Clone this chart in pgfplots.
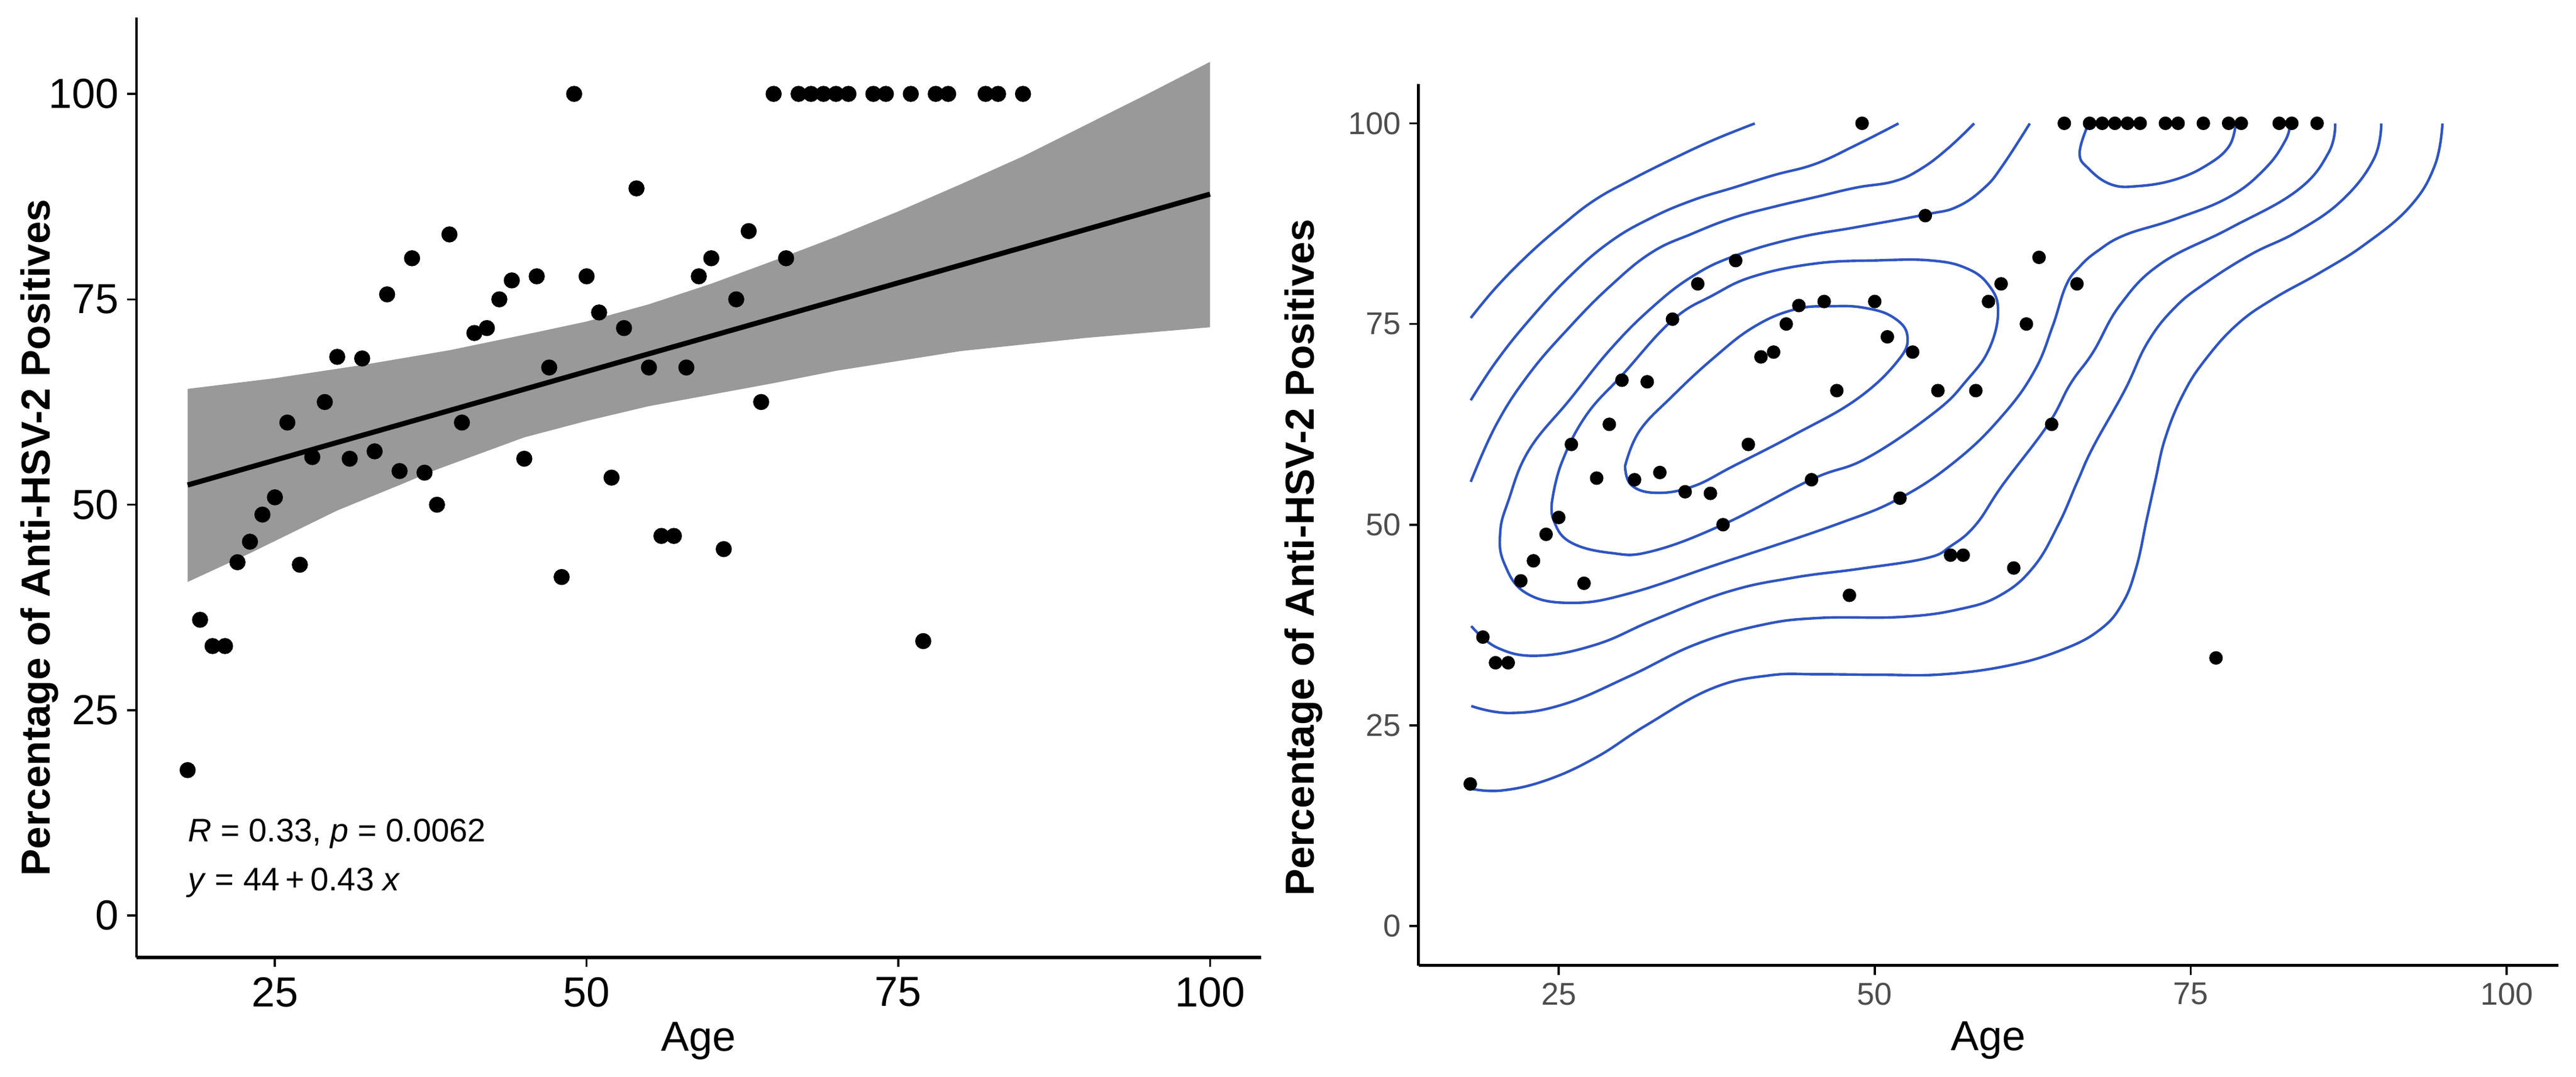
\documentclass[border=0pt]{standalone}
\usepackage{fontspec}
\setmainfont{Liberation Sans}
\usepackage{pgfplots}
\usepackage{pgfplotstable}
\pgfplotsset{compat=1.18}

\definecolor{bandgrey}{HTML}{999999}
\definecolor{contour}{HTML}{2F55C0}
\definecolor{tickgrey}{HTML}{4D4D4D}

% age vs percentage, same points in both panels
\pgfplotstableread{
age pct
18 17.7
19 36
20 32.8
21 32.8
22 43
23 45.5
24 48.8
25 50.9
26 60
27 42.7
28 55.8
29 62.5
30 68
31 55.6
32 67.8
33 56.5
34 75.6
35 54.1
36 80
37 53.9
38 50
39 82.9
40 60
41 70.9
42 71.5
43 75
44 77.3
45 55.6
46 77.8
47 66.7
48 41.2
49 100
50 77.8
51 73.4
52 53.3
53 71.5
54 88.5
55 66.7
56 46.2
57 46.2
58 66.7
59 77.8
60 80
61 44.6
62 75
63 83.3
64 62.5
65 100
66 80
67 100
68 100
69 100
70 100
71 100
73 100
74 100
76 100
77 33.4
78 100
79 100
82 100
83 100
85 100
}\pts

\pgfplotsset{
  panel/.style={
    scale only axis,
    axis x line=bottom, axis y line=left,
    axis line style={-},
    xmin=13.9, xmax=104.1,
    xtick={25,50,75,100}, ytick={0,25,50,75,100},
    tick align=outside,
    major tick length=4pt,
    tick style={black,line width=0.9pt},
    /pgf/number format/assume math mode=true,
    clip=false,
  },
}

\begin{document}
\begin{tikzpicture}
\path[use as bounding box] (0,0) rectangle (1104pt,461.5pt);

% left panel: regression
\begin{axis}[panel,
  at={(58.5pt,51pt)}, anchor=south west,
  width=482pt, height=403pt,
  ymin=-5.1, ymax=109.3,
  x axis line style={line width=1.3pt},
  y axis line style={line width=0.8pt},
  tick label style={font=\fontsize{18}{20}\selectfont,black},
  xticklabel style={yshift=-1pt},
  xlabel={Age},
  ylabel={Percentage of Anti-HSV-2 Positives},
  every axis x label/.style={at={(axis description cs:0.5,-0.0993)},anchor=base,font=\fontsize{18}{20}\selectfont},
  every axis y label/.style={at={(axis description cs:-0.0768,0.4467)},anchor=base,rotate=90,font=\fontsize{17.35}{20}\selectfont\bfseries},
]
\addplot[fill=bandgrey,draw=none] coordinates {
  (18,64.1)(25,65.4)(32,67)(39,68.8)(46,71)(50,72.3)(55,74.4)(60,76.9)(65,79.7)(70,82.6)(75,85.7)(80,89)(85,92.4)(90,96.2)(95,100)(100,103.9)
  (100,71.6)(90,70.3)(80,68.7)(70,66.3)(65,64.8)(60,63.4)(55,62)(50,60.2)(45,58.2)(38,54.3)(35,52.4)(30,49.3)(23,44.1)(18,40.6)
} --cycle;
\addplot[only marks,mark=*,mark size=3.25pt,mark options={draw=none,fill=black}] table[x=age,y=pct] {\pts};
\addplot[black,line width=2.2pt] coordinates {(18,52.4)(100,87.8)};
\node[anchor=base west,inner sep=0pt,font=\fontsize{14}{16}\selectfont] at (axis cs:18,9) {\textit{R} = 0.33, \textit{p} = 0.0062};
\node[anchor=base west,inner sep=0pt,font=\fontsize{14}{16}\selectfont] at (axis cs:18,3) {\textit{y} = 44\hspace{0.18em}+\hspace{0.18em}0.43 \textit{x}};
\end{axis}

% right panel: density contours
\begin{axis}[panel,
  at={(607.9pt,47.6pt)}, anchor=south west,
  width=488.6pt, height=377.9pt,
  ymin=-4.9, ymax=104.9,
  x axis line style={line width=1.3pt},
  y axis line style={line width=1.4pt},
  tick label style={font=\fontsize{13.5}{16}\selectfont,text=tickgrey},
  xlabel={Age},
  ylabel={Percentage of Anti-HSV-2 Positives},
  every axis x label/.style={at={(axis description cs:0.5,-0.0968)},anchor=base,font=\fontsize{18}{20}\selectfont},
  every axis y label/.style={at={(axis description cs:-0.0915,0.4625)},anchor=base,rotate=90,font=\fontsize{17.35}{20}\selectfont\bfseries},
  contourline/.style={contour,line width=1.1pt,smooth,tension=0.7},
]
\addplot[only marks,mark=*,mark size=2.7pt,mark options={draw=none,fill=black}] table[x=age,y=pct] {\pts};

\addplot[contourline] coordinates {
  (18.04,75.75)(20.05,79.57)(22.64,83.71)(25.23,87.26)(27.82,90.41)(30.73,92.97)(33.97,95.53)(37.21,97.9)(40.51,99.98)
};
\addplot[contourline] coordinates {
  (18.04,65.5)(20.05,70.32)(22.64,75.44)(25.88,80.95)(29.11,85.29)(32.35,88.24)(35.59,90.41)(38.83,91.99)(42.07,93.56)(45.3,94.94)(48.54,97.3)(51.88,99.98)
};
\addplot[contourline] coordinates {
  (18.04,55.34)(20.05,62.44)(22.64,68.74)(25.88,74.65)(29.11,79.77)(32.35,83.91)(35.59,86.27)(38.83,88.24)(42.07,89.62)(45.3,90.8)(48.54,91.99)(51.53,92.77)(53.68,94.35)(55.82,96.91)(57.87,99.98)
};
\addplot[contourline] coordinates {
  (62.27,99.98)(60.12,94.74)(58.69,91.99)(56.54,89.62)(54.03,88.64)(48.54,87.06)(43.69,85.68)(38.99,83.52)(35.59,80.95)(32.35,77.01)(29.11,71.89)(25.88,65.59)(22.64,59.28)(21.02,53)(20.37,49.04)(20.69,45.18)(22.45,41.45)(26.04,40.26)(30.61,41.45)(37.78,45.18)(46.91,50)(52.07,53.37)(56.54,58.1)(60.12,63.62)(62.63,69.13)(64.06,74.65)(65.13,79.77)(66.21,82.14)(67.64,84.1)(69.79,86.08)(73.72,88.05)(78.02,90.8)(80.88,94.35)(82.5,97.9)(82.85,99.98)
};
\addplot[contourline] coordinates {
  (24.48,52.98)(25.23,57.71)(27.17,63.62)(30.08,68.74)(33.97,75.44)(37.21,78.59)(40.45,80.95)(45.3,82.53)(50.16,82.92)(54.39,82.92)(57.26,81.94)(59.05,79.77)(59.76,76.62)(59.05,71.89)(57.26,67.95)(54.75,64.01)(49.38,58.3)(44.98,55.62)(38.02,50.03)(32.35,46.68)(29.11,46.48)(25.88,47.86)(24.58,50.62)(24.48,52.98)
};
\addplot[contourline] coordinates {
  (30.25,57.31)(30.73,54.95)(32.68,53.97)(35.59,54.75)(38.83,57.31)(43.69,61.25)(48.54,65.59)(51.78,70.32)(52.59,73.47)(51.46,75.83)(49.19,77.01)(46.6,77.21)(43.69,76.82)(40.45,74.65)(37.21,70.71)(33.97,65.98)(31.38,61.65)(30.25,57.31)
};
\addplot[contourline] coordinates {
  (66.92,99.98)(66.21,96.32)(66.92,94.35)(68.71,92.38)(70.86,92.18)(73.72,92.97)(76.23,94.74)(78.02,97.11)(78.56,99.98)
};
\addplot[contourline] coordinates {
  (18.08,37.37)(20.17,34.65)(23.43,33.68)(28,35.09)(32.56,38.16)(38.43,41.67)(43.65,43.42)(48.87,44.52)(54.09,45.83)(56.05,47.37)(58,50)(60.12,54.95)(63.7,62.44)(65.49,67.56)(67.28,71.5)(69.43,77.41)(72.65,82.53)(78.02,86.86)(83.39,91.59)(85.9,96.32)(86.43,99.98)
};
\addplot[contourline] coordinates {
  (18.08,27.41)(21.15,26.54)(25.39,27.63)(30.61,31.14)(35.83,35.09)(41.04,37.5)(45.61,38.38)(52.13,38.51)(56.7,39.47)(59.96,41.23)(62.57,44.74)(64.53,50)(66.03,55.35)(67.28,59.68)(69.79,66.77)(71.58,72.68)(73.72,77.01)(76.23,80.17)(79.81,83.71)(83.39,86.47)(86.97,90.41)(89.48,95.53)(90.08,99.98)
};
\addplot[contourline] coordinates {
  (18.08,17.1)(20.5,16.89)(24.08,18.2)(28,21.05)(31.91,25)(37.13,29.6)(41.7,31.23)(45.61,31.36)(50.5,31.3)(55.39,31.36)(60.61,32.46)(64.8,34.4)(67.8,36.9)(69.6,40.2)(70.7,44.7)(71.5,50.5)(72.2,55.5)(73,60.86)(74.44,66.37)(76.23,70.71)(78.74,75.04)(81.6,78.2)(85.18,81.35)(88.76,84.89)(92.34,89.62)(94.31,94.74)(94.92,99.98)
};
\end{axis}
\end{tikzpicture}
\end{document}
